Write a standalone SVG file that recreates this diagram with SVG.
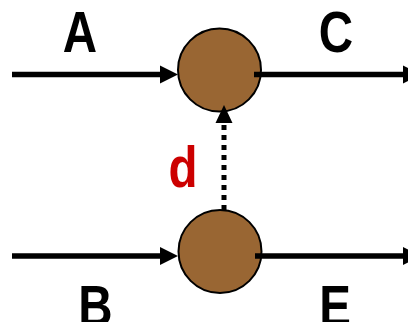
<svg xmlns="http://www.w3.org/2000/svg" width="408" height="322" viewBox="0 0 408 322">
  <style>
    .node { fill: #996633; stroke: #000; stroke-width: 2; }
    .edge { stroke: #000; stroke-width: 5.5; fill: none; }
    .dot { stroke: #000; stroke-width: 5; fill: none; stroke-dasharray: 5 5; }
    .lbl { font-family: "Liberation Sans", Arial, sans-serif; font-weight: bold; font-size: 58px; text-anchor: middle; fill: #000; }
    .red { fill: #CC0000; }
  </style>
  <defs>
    <marker id="ah" markerUnits="userSpaceOnUse" markerWidth="18" markerHeight="18" refX="0" refY="9" orient="auto" overflow="visible">
      <path d="M0,0 L18,9 L0,18 Z" fill="#000"/>
    </marker>
    <marker id="ah2" markerUnits="userSpaceOnUse" markerWidth="17" markerHeight="17" refX="0" refY="8.5" orient="auto" overflow="visible">
      <path d="M0,0 L17,8.5 L0,17 Z" fill="#000"/>
    </marker>
  </defs>
  <rect width="408" height="322" fill="#fff"/>
  <g id="node-top">
    <circle class="node" cx="219.5" cy="70" r="41.5"/>
  </g>
  <g id="node-bottom">
    <circle class="node" cx="220" cy="251.5" r="41.5"/>
  </g>
  <g id="connectors">
    <path class="edge" d="M12,74.5 H160" marker-end="url(#ah)"/>
    <path class="edge" d="M254,74.5 H403" marker-end="url(#ah)"/>
    <path class="edge" d="M12,256 H160" marker-end="url(#ah)"/>
    <path class="edge" d="M255,256 H403" marker-end="url(#ah)"/>
    <path class="dot" d="M224,210 V122"/>
    <path d="M215.5,123 L224,105 L232.5,123 Z" fill="#000"/>
  </g>
  <g id="labels">
    <text class="lbl" transform="translate(80,52) scale(0.82,1)">A</text>
    <text class="lbl" transform="translate(336,52) scale(0.82,1)">C</text>
    <text class="lbl" transform="translate(95.5,326) scale(0.82,1)">B</text>
    <text class="lbl" transform="translate(335,326) scale(0.82,1)">E</text>
    <text class="lbl red" transform="translate(183,187) scale(0.82,1)">d</text>
  </g>
</svg>
